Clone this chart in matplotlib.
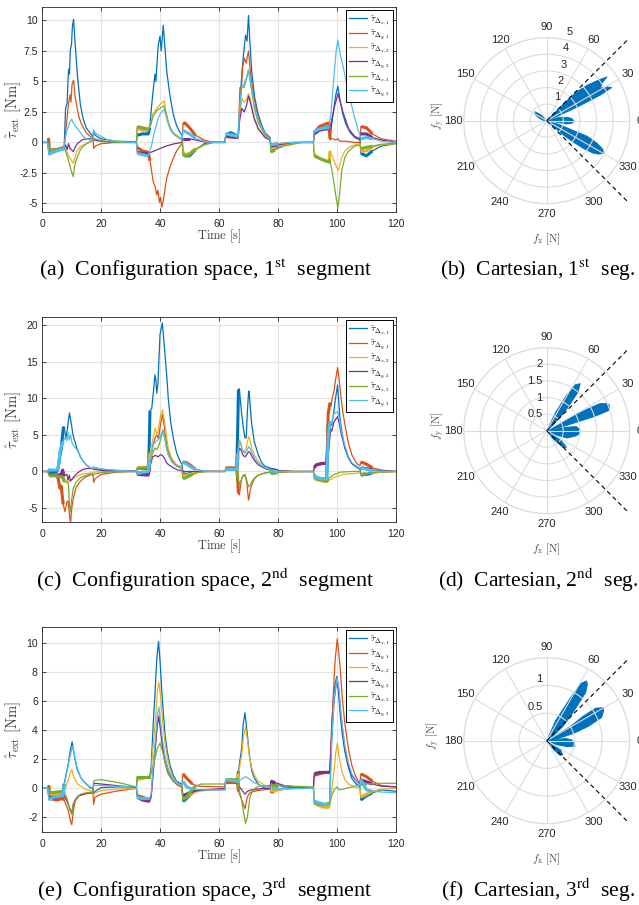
import numpy as np
import matplotlib
matplotlib.use("Agg")
import matplotlib.pyplot as plt
from matplotlib.transforms import offset_copy

plt.rcParams['font.family'] = ['Liberation Sans', 'DejaVu Sans']
plt.rcParams['mathtext.fontset'] = 'cm'

# ---- data: (time [s], torque [Nm]) ----
A_X1 = [(0,0),(2,0),(2.3,-0.9),(3,-0.7),(5,-0.6),(7.5,-0.4),(8,2.8),(8.5,3.2),(9,6),(9.3,5.6),(9.6,7.6),(10,8),(10.3,9.5),(10.7,10.1),(11.2,8.2),(12,5.5),(13,3.1),(14,1.9),(15,1.2),(16.5,0.7),(17.3,0.5),(17.5,1.0),(18,0.6),(20,0.3),(25,0.1),(32,0.05),(32.3,0.6),(34,0.7),(36,0.7),(36.5,1.2),(37.2,3.1),(38,5),(38.3,5.6),(38.6,5),(39.4,8),(40,8.7),(40.4,7.5),(41.1,9.6),(41.6,8),(42.3,5.8),(43.4,3.8),(44.5,2.3),(45.6,1.4),(46.8,0.8),(47.5,0.6),(47.8,-0.8),(48.5,-1.1),(50,-1.1),(52,-0.6),(55,-0.1),(58,0),(62,0),(62.3,0.6),(64,0.8),(66.5,0.5),(67,2.5),(67.5,4.8),(68.3,7.2),(69,8.8),(69.5,8.3),(70,10.4),(70.4,8.5),(71.1,5.8),(72,3.8),(73.3,2.3),(74.5,1.4),(75.6,0.8),(77.3,0.4),(77.6,-0.7),(79,-0.5),(82,-0.2),(88,0),(92,0),(92.3,0.8),(94,1.1),(96,1.2),(97.3,1.3),(97.7,0.2),(98.2,1.5),(98.8,2.5),(99.5,3.8),(100.3,4.6),(101,3.5),(102,2.3),(103,1.5),(104.5,0.8),(106,0.4),(107.8,0.2),(108.1,-0.9),(110,-1.1),(112,-0.7),(115,-0.3),(120,-0.1)]
A_Y1 = [(0,0),(2,0),(2.2,0.35),(2.5,-0.6),(5,-0.6),(7.5,-0.4),(8,0.8),(8.4,1.7),(9,3.2),(9.5,3.9),(9.8,3.3),(10.2,4.8),(10.7,5.1),(11.2,3.8),(11.7,3.1),(12.5,2.1),(13.4,1.5),(15,0.8),(16.3,0.5),(17.3,0.4),(17.5,-0.5),(18,-0.3),(20,-0.1),(25,0),(32,0),(32.3,-0.4),(34,-0.7),(36,-0.8),(36.6,-1.5),(37.7,-3.2),(38.3,-3.6),(38.9,-4.3),(39.3,-3.9),(39.8,-4.9),(40.2,-4.5),(40.6,-5.3),(41.1,-4.8),(41.7,-3.8),(42.3,-2.9),(43.4,-2.0),(44.5,-1.3),(45.6,-0.7),(46.8,-0.3),(47.5,-0.1),(47.8,1.5),(48.5,1.6),(50,1.2),(52,0.6),(55,0.2),(58,0),(62,0),(62.3,0.5),(66.5,0.4),(67.1,4.5),(67.5,4),(68,6.2),(68.6,6.9),(69.2,6.5),(70,7.5),(70.5,6.2),(71,5.0),(72,3.4),(73.3,2.0),(74.5,1.2),(75.6,0.7),(77.3,0.4),(77.6,-0.2),(80,-0.1),(85,0),(92,0),(92.3,0.8),(94,1.3),(96,1.5),(97.3,1.6),(97.6,0.3),(98.5,0.3),(99.5,0.2),(100.3,0.3),(101,0.1),(103,0.1),(106,0),(107.8,0),(108.1,1.3),(110,1.2),(112,0.7),(115,0.3),(120,0.1)]
A_X2 = [(0,0),(2,0),(2.5,-0.7),(5,-0.6),(7.5,-0.4),(8,-0.6),(9.5,-1.3),(10.6,-1.7),(11,-1.4),(11.8,-0.7),(13,-0.35),(14,-0.2),(17,0.1),(17.5,0.3),(18,0.2),(20,0.1),(25,0),(32,0),(32.3,1.2),(34,1.0),(36,1.0),(37,1.6),(37.5,2.3),(38.9,2.8),(40,3.1),(41.4,3.4),(42,2.6),(42.8,1.7),(43.6,1.2),(44.5,0.8),(46.8,0.4),(47.5,0.3),(47.8,-0.8),(48.5,-1.0),(50,-0.9),(52,-0.5),(55,-0.2),(58,0),(62,0),(62.3,0.6),(66.5,0.5),(67,2.2),(67.7,3.6),(68.5,3.3),(69.3,3.5),(70,4.0),(70.6,3.6),(71.1,3.0),(72,2.0),(73.3,1.2),(75.6,0.5),(77.3,0.3),(77.6,-0.6),(79,-0.4),(82,-0.2),(88,0),(92,0),(92.3,-1.0),(94,-1.3),(96,-1.5),(97.3,-1.6),(97.6,-0.7),(98.5,-1.2),(99.5,-1.8),(100.4,-2.3),(101,-1.8),(101.8,-1.1),(102.7,-0.7),(104,-0.4),(106,-0.2),(107.8,-0.1),(108.1,-0.7),(110,-0.7),(112,-0.4),(115,-0.2),(120,-0.1)]
A_Y2 = [(0,0),(2,0),(2.5,-0.8),(5,-0.6),(7.5,-0.5),(8,-0.2),(8.5,-0.6),(9,-0.1),(9.5,-0.5),(10,-0.6),(10.6,-0.75),(11.2,-0.4),(12,-0.1),(13,0.1),(14,0.25),(16,0.3),(17.3,0.3),(17.5,0.2),(20,0.1),(25,0),(32,0),(32.3,-0.8),(34,-0.9),(36,-0.9),(37,-0.8),(39,-0.6),(42,-0.3),(45,-0.1),(47.5,0),(47.8,0.3),(50,0.3),(55,0.05),(62,0),(62.3,0.5),(66.5,0.4),(67,1.8),(67.7,2.8),(68.5,2.5),(69.3,3.0),(70,3.8),(70.6,3.3),(71.1,2.8),(72,1.9),(73.3,1.1),(75.6,0.4),(77.3,0.2),(77.6,-0.3),(80,-0.2),(85,0),(92,0),(92.3,0.7),(94,1.0),(96,1.1),(97.3,1.1),(98,1.6),(99,2.8),(100.3,4.0),(101,3.4),(102,2.5),(102.7,2.0),(104,1.1),(106,0.5),(107.8,0.3),(108.1,0.7),(110,0.7),(112,0.4),(115,0.2),(120,0)]
A_X3 = [(0,0),(2,0),(2.5,-0.7),(5,-0.6),(7.5,-0.5),(8,-0.7),(9,-1.5),(10,-2.4),(10.6,-2.8),(11,-2.0),(11.8,-1.3),(13,-0.6),(14,-0.3),(17,0.2),(17.5,0.4),(18,0.3),(20,0.15),(25,0),(32,0),(32.3,1.3),(34,1.2),(36,1.1),(37,1.5),(37.5,2.1),(38.9,2.6),(40,2.8),(41.3,3.0),(42,2.4),(42.8,1.6),(43.6,1.1),(44.5,0.7),(46.8,0.3),(47.5,0.2),(47.8,-1.0),(48.5,-1.1),(50,-1.0),(52,-0.6),(55,-0.2),(58,0),(62,0),(62.3,0.7),(66.5,0.5),(67,2.8),(67.7,4.6),(68.5,4.5),(69.3,5.2),(70,5.9),(70.6,5.0),(71.1,4.2),(72,2.8),(73.3,1.6),(75.6,0.6),(77.3,0.3),(77.6,-0.8),(79,-0.6),(82,-0.3),(88,0),(92,0),(92.3,-1.1),(94,-1.3),(96,-1.5),(97.3,-1.6),(97.6,-1.4),(98.5,-2.6),(99.5,-4.2),(100.3,-5.4),(100.9,-4.2),(101.6,-2.3),(102.7,-1.2),(103.9,-0.7),(106,-0.3),(107.8,-0.2),(108.1,-0.5),(110,-0.4),(112,-0.3),(115,-0.15),(120,-0.05)]
A_Y3 = [(0,0),(2,0),(2.3,-1.0),(3,-0.9),(5,-0.7),(7.5,-0.5),(8,0.5),(8.5,1.0),(9.5,1.7),(10.1,1.9),(10.6,1.6),(11.8,1.2),(13,0.8),(14,0.5),(15,0.3),(17.3,0.1),(17.5,1.0),(18,0.8),(20,0.5),(22,0.25),(25,0.1),(30,0),(32,0),(32.3,-0.9),(34,-1.0),(36,-1.1),(37,-0.4),(37.7,0.4),(38.5,1.2),(39.4,2.0),(40.2,2.4),(41.4,2.7),(42,2.2),(42.8,1.5),(43.6,1.0),(44.5,0.7),(46.8,0.35),(47.5,0.3),(47.8,1.0),(48.5,0.9),(50,0.7),(52,0.35),(55,0.1),(58,0),(62,0),(62.3,0.7),(66.5,0.5),(67,3.0),(67.7,4.5),(68.5,4.8),(69.3,5.3),(70,6.0),(70.6,5.2),(71.1,4.3),(72,3.0),(73.3,1.8),(75.6,0.7),(77.3,0.3),(77.6,-0.2),(80,-0.1),(85,0),(92,0),(92.3,0.9),(94,1.1),(96,1.2),(97.3,1.2),(98,2.5),(99,5.5),(99.7,7.5),(100.3,8.4),(101,7.3),(102,6.3),(102.7,5.5),(103.8,4.2),(104.9,3.1),(106,2.0),(107.2,1.0),(107.8,0.6),(108.1,0.3),(110,0.4),(112,0.3),(115,0.1),(120,0)]

C_X1 = [(0,0),(2,0),(2.3,0.3),(3,-0.2),(5,0),(5.5,0.5),(6.1,2.3),(6.5,3),(7.2,5.9),(7.5,6.1),(8.1,4.6),(8.5,5.5),(9.3,8.0),(10,6.4),(10.5,5.0),(11.8,3.2),(13,2.0),(14,1.4),(15,0.9),(16.3,0.5),(17.3,0.4),(17.5,0.6),(18,0.5),(20,0.3),(25,0.15),(32,0.1),(32.3,0.5),(34,0.4),(36,0.4),(36.3,3),(36.6,8.3),(37.2,8.6),(37.8,11),(38.3,13.2),(38.6,12.5),(38.9,10.7),(39.3,12),(40,18.7),(40.8,20.3),(41.7,16),(42.3,13),(42.8,10),(43.6,6.8),(44.5,4.6),(45.6,2.6),(46.8,1.4),(47.5,1.0),(47.8,-0.3),(49,-0.4),(52,-0.1),(55,0),(62,0),(62.3,0.3),(66,0.3),(66.3,5),(66.6,11.2),(66.9,11.3),(67.3,9.5),(67.7,7.8),(68.3,5.8),(68.8,4.6),(69.2,4.6),(69.6,8),(70,10.7),(70.2,11.0),(70.6,8.8),(71.1,6.4),(72,4.0),(73.3,2.3),(74.5,1.2),(75.6,0.7),(77.3,0.5),(77.6,0.3),(80,0.1),(85,0),(92,0),(92.3,-0.5),(93,-0.9),(95,-1.0),(96.5,-1.0),(96.8,3),(97,6.4),(97.6,6.8),(98.2,6.3),(98.8,7.8),(99.5,10),(100.2,11.8),(100.6,9.5),(101,7.3),(102,4.5),(102.7,3.2),(103.8,1.9),(105,1.1),(106.5,0.6),(107.8,0.3),(108.1,-0.5),(110,-0.4),(112,-0.2),(115,-0.1),(120,0)]
C_Y1 = [(0,0),(2,0),(2.3,-0.4),(5,-0.5),(5.5,-1.0),(6.1,-2.3),(6.5,-2.0),(7.2,-4.5),(7.8,-5.5),(8.4,-4.2),(8.8,-4.0),(9.5,-6.6),(9.7,-6.9),(10.1,-5.0),(10.6,-3.7),(11.5,-2.2),(12.9,-1.4),(14.5,-0.8),(16.3,-0.5),(17.3,-0.4),(17.5,-1.5),(18,-1.0),(20,-0.4),(25,-0.1),(32,0),(32.3,-0.2),(36,-0.2),(36.6,1.5),(37.7,3.7),(38.3,4.5),(38.9,5.0),(39.5,4.5),(40.2,6.5),(40.8,7.8),(41.5,6),(42.2,4),(42.8,2.7),(44,1.6),(45.6,0.9),(47.3,0.6),(47.8,1.3),(49,1.2),(50.5,0.8),(52,0.3),(55,0.05),(62,0),(62.3,0.5),(66,0.5),(66.4,-1.5),(66.6,-3.0),(66.9,-3.2),(67.3,-2.0),(67.7,-0.9),(68.3,-0.6),(68.8,-0.5),(69.4,-1.5),(70,-3.9),(70.2,-3.6),(70.6,-2.5),(71.1,-1.8),(72,-1.0),(73.3,-0.5),(75.6,-0.2),(77.3,-0.1),(77.6,0.2),(80,0.05),(85,0),(92,0),(92.3,0.5),(93,0.9),(95,1.1),(96.5,1.1),(96.8,4),(97,7.8),(97.6,9.4),(98,8.9),(98.4,10),(99,11),(99.5,12.5),(100.2,14.2),(100.6,13),(101,11.4),(102,8),(102.7,6.4),(103.8,4),(105,2.3),(106.5,1.2),(107.2,0.9),(107.8,0.8),(108.1,1.3),(110,1.0),(112,0.5),(115,0.2),(120,0)]
C_X2 = [(0,0),(2,0),(2.5,-0.5),(5,-0.5),(7,-0.6),(7.5,-0.9),(8.5,-1.4),(9,-1.5),(9.5,-1.3),(10.5,-1.0),(12,-0.6),(14,-0.3),(17,-0.2),(17.5,-0.1),(20,-0.05),(25,0),(32,0),(32.3,0.5),(36,0.6),(36.6,2.5),(37.7,4.6),(38.3,5.9),(38.7,5.5),(39.1,5.0),(39.7,6.5),(40.3,7.8),(40.8,8.4),(41.5,7),(42.2,4.8),(42.8,3.2),(44,1.8),(45.6,0.9),(47.3,0.5),(47.8,-0.5),(49,-0.5),(52,-0.2),(55,0),(62,0),(62.3,0.3),(66,0.3),(66.4,2.5),(66.9,4.3),(67.3,4.0),(67.8,3.0),(68.6,2.7),(69.2,3.2),(70,4.7),(70.4,4.5),(71.1,3.2),(72,2.2),(73.3,1.4),(74.5,0.8),(75.6,0.5),(77.3,0.3),(77.6,-0.2),(80,-0.1),(85,0),(92,0),(92.3,-0.8),(93,-1.1),(95,-1.3),(96.5,-1.4),(97,-1.2),(98,-1.1),(99,-0.8),(100,-0.7),(102,-0.4),(105,-0.3),(107.8,-0.2),(108.1,-0.4),(110,-0.3),(115,-0.1),(120,0)]
C_Y2 = [(0,0),(2,0),(2.5,-0.5),(5,-0.5),(6.5,-0.4),(7,0.2),(7.5,-0.6),(8.5,-0.4),(8.8,-1.2),(9.3,-0.5),(9.6,-1.3),(10.3,-1.0),(11,-0.6),(12,-0.2),(13.5,0.2),(15,0.4),(17,0.4),(17.5,0.3),(20,0.15),(25,0.05),(32,0),(32.3,-0.4),(36,-0.5),(36.5,0.5),(37.5,2.0),(38.5,2.2),(39.3,2.0),(40.2,2.3),(40.8,2.2),(41.5,1.8),(42.2,1.2),(43,0.9),(44.5,0.5),(46,0.2),(47.5,0.1),(48,0),(55,0),(62,0),(62.3,0.3),(66,0.3),(66.4,2.0),(66.9,3.2),(67.4,3.0),(68.2,2.2),(68.8,2.0),(69.4,2.3),(70,2.7),(70.5,2.6),(71.1,2.1),(72,1.5),(73.3,0.9),(75.6,0.4),(77.3,0.2),(77.6,0.3),(80,0.1),(85,0),(92,0),(92.3,0.6),(93,0.9),(95,1.1),(96.5,1.1),(97,3.5),(97.6,5.9),(98.2,5.5),(99,6.8),(100.2,7.5),(100.8,6.5),(101.5,5),(102.7,3.2),(103.8,2.0),(105,1.1),(107,0.6),(107.8,0.4),(108.1,0.5),(110,0.4),(112,0.2),(120,0)]
C_X3 = [(0,0),(2,0),(2.5,-0.6),(5,-0.6),(7,-0.8),(7.5,-1.4),(8.5,-1.5),(9,-1.8),(9.3,-4.5),(9.6,-5.5),(10,-4.0),(10.6,-2.3),(11.5,-1.5),(12.9,-0.9),(15,-0.5),(17,-0.3),(17.5,-0.4),(20,-0.15),(25,0),(32,0),(32.3,0.4),(36,0.5),(36.6,1.5),(37.7,2.7),(38.3,3.2),(38.9,3.0),(39.5,3.4),(40.3,4.5),(41,5.7),(41.6,4.8),(42.2,3.3),(42.8,2.3),(44,1.3),(45.6,0.7),(47.3,0.4),(47.8,-1.0),(49,-0.8),(51,-0.4),(53,-0.1),(56,0),(62,0),(62.3,0.3),(66,0.3),(66.4,-0.8),(66.9,-1.8),(67.4,-1.3),(68.2,-0.5),(68.8,-0.4),(69.4,-1.2),(70,-2.1),(70.5,-1.9),(71.1,-1.4),(72,-0.9),(73.3,-0.5),(75.6,-0.2),(77.3,-0.1),(77.6,-0.3),(80,-0.15),(85,-0.05),(92,0),(92.3,-0.7),(93,-1.0),(95,-1.2),(96.5,-1.3),(97,-1.0),(98,-0.7),(99,-0.4),(100,-0.3),(101,-0.1),(105,0),(107.8,0),(108.1,-0.4),(110,-0.3),(113,-0.1),(120,0)]
C_Y3 = [(0,0),(2,0),(2.3,0.2),(5,0.2),(5.5,0.6),(6.1,2.7),(6.6,3.5),(7.2,4.1),(7.8,4.6),(8.4,4.2),(8.9,5.3),(9.2,4.3),(9.7,5.0),(10.1,4.0),(10.6,3.6),(11.8,3.0),(13,2.1),(14,1.4),(15,0.9),(16.3,0.5),(17.3,0.4),(17.5,0.6),(18,0.5),(20,0.35),(25,0.15),(32,0.05),(32.3,-0.3),(34,-0.1),(36,0),(36.6,1.5),(37.7,3.7),(38.9,4.2),(40,4.6),(40.8,5.5),(41.5,4.6),(42.2,3.3),(42.8,2.3),(44,1.4),(45.6,0.8),(47.3,0.5),(47.8,1.3),(49,1.0),(50.5,0.6),(52,0.3),(55,0.05),(62,0),(62.3,0.3),(66,0.3),(66.4,2.3),(66.9,4.1),(67.4,3.8),(68,2.8),(68.8,2.5),(69.4,2.8),(70,3.4),(70.5,3.2),(71.1,2.6),(72,1.8),(73.3,1.1),(75.6,0.5),(77.3,0.3),(77.6,0.1),(80,0),(92,0),(92.3,-0.5),(93,-0.8),(95,-1.0),(96.5,-1.0),(97,4.5),(97.6,6.8),(98.2,6.5),(98.8,7.8),(100.2,8.2),(100.8,7.2),(101.5,5.5),(102.7,3.5),(103.8,2.1),(105,1.2),(107,0.6),(107.8,0.4),(108.1,0.5),(110,0.3),(112,0.1),(120,0)]

E_X1 = [(0,0),(2,0),(2.3,-0.6),(4,-0.5),(7,-0.45),(7.5,0.3),(8.4,1.2),(9,1.8),(9.5,2.5),(10.2,3.2),(10.6,2.7),(11.2,2.0),(11.8,1.4),(13,0.8),(14,0.5),(16.3,0.05),(17.3,0),(17.5,-0.4),(18,-0.2),(20,0.05),(25,0.1),(32,0.1),(32.3,0.8),(36.5,0.8),(37,1.5),(37.7,4.4),(38.3,6.5),(38.9,8.9),(39.5,10.1),(40,8.8),(40.6,6.7),(41.2,5),(41.7,3.7),(42.5,2.5),(43.4,1.6),(44.5,0.9),(45.6,0.5),(47.3,0.3),(47.8,-0.9),(49,-0.7),(50.5,-0.4),(52,-0.15),(55,-0.1),(62,-0.1),(62.3,0.6),(66.3,0.5),(66.6,1.2),(67.7,2.8),(68.2,4.4),(68.8,5.2),(69.6,3.7),(70.3,2.3),(71.1,1.2),(72,0.7),(73.3,0.3),(75.6,0),(77.3,0),(77.6,0.5),(79,0.3),(82,0.1),(88,0),(92,0),(92.3,-0.9),(94,-1.1),(96,-1.2),(97.5,-1.1),(98.2,4.4),(99,6.7),(99.9,7.7),(100.4,6.8),(101,5.3),(101.8,3.7),(102.7,2.5),(103.8,1.5),(105,0.7),(106.5,0.3),(107.8,0.1),(108.1,-0.8),(110,-0.5),(112,-0.3),(115,-0.1),(120,-0.2)]
E_Y1 = [(0,0),(2,0),(2.3,0.2),(2.6,-0.7),(5,-0.8),(7,-0.7),(7.5,-0.8),(8.9,-1.5),(9.6,-2.2),(10.1,-2.5),(10.6,-1.6),(11.2,-0.9),(12.5,-0.5),(15,-0.35),(17.3,-0.3),(17.5,-1.1),(18,-0.6),(20,-0.4),(25,-0.2),(30,-0.05),(32,0),(32.3,-0.5),(34,-0.6),(36.5,-0.8),(37,-0.5),(37.7,1.5),(38.5,3.2),(39.1,4.5),(39.6,5.0),(40.2,4.2),(40.8,3.0),(41.7,1.9),(42.8,1.1),(44.5,0.5),(46,0.2),(47.3,0.1),(47.8,1.0),(49,0.7),(51,0.3),(53,0.15),(62,0.1),(62.3,0.4),(66.3,0.4),(66.6,-0.2),(67.7,-0.8),(68.8,-1.4),(69.6,-0.6),(70.3,-0.35),(71.1,-0.25),(73,-0.15),(77.3,-0.05),(77.6,-0.3),(79,-0.15),(85,0),(92,0),(92.3,0.9),(94,1.0),(96,1.1),(97.5,1.1),(98.2,4),(98.8,6.7),(99.4,8.9),(100.1,10.3),(100.5,9.5),(101,8.5),(101.8,6.2),(102.7,4.4),(103.8,2.8),(105,1.6),(106.2,0.9),(107.2,0.5),(107.8,0.4),(108.1,1.0),(110,0.8),(112,0.5),(115,0.2),(120,0.1)]
E_X2 = [(0,0),(2,0),(2.5,-0.4),(5,-0.4),(7.5,-0.3),(8.4,0.3),(9.5,1.0),(10.1,1.3),(10.6,0.9),(11.2,0.6),(12,0.3),(13.5,0.1),(15,-0.1),(17.3,-0.2),(17.5,-0.5),(18,-0.3),(20,-0.15),(25,-0.05),(32,0),(32.3,0.6),(36.5,0.8),(37,1.2),(37.7,3),(38.5,4.8),(39.1,6.7),(39.6,7.3),(40.2,6.3),(40.9,4.6),(41.6,3.3),(42.4,2.2),(43.4,1.3),(44.5,0.7),(46,0.35),(47.3,0.2),(47.8,-0.5),(49,-0.6),(51,-0.35),(53,-0.2),(58,-0.1),(62,-0.1),(62.3,0.6),(66.3,0.5),(66.6,1.0),(67.7,2.3),(68.3,3.6),(69,4.2),(69.6,3.4),(70.3,2.2),(71.1,1.4),(72,0.9),(73.3,0.5),(75.6,0.2),(77.3,0.1),(77.6,-0.2),(80,-0.1),(88,0),(92,0),(92.3,-1.0),(94,-1.2),(96,-1.3),(97.5,-1.3),(98.2,-0.2),(99,1.2),(99.6,2.5),(100.1,3.1),(100.6,2.3),(101.6,1.2),(102.7,0.6),(103.9,0.3),(106,0.1),(107.8,0),(108.1,-0.6),(110,-0.4),(112,-0.2),(115,-0.05),(120,0)]
E_Y2 = [(0,0),(2,0),(2.5,-0.7),(5,-0.6),(7.5,-0.5),(8.5,-0.9),(9.5,-1.4),(10.1,-1.7),(10.6,-1.1),(11.2,-0.8),(12.5,-0.5),(15,-0.35),(17.3,-0.3),(17.5,0.3),(18,0.35),(20,0.3),(25,0.2),(30,0.1),(32,0.05),(32.3,-0.6),(34,-0.8),(36.5,-0.9),(37,-0.6),(37.7,1.0),(38.5,3.0),(39.1,4.4),(39.6,4.9),(40.2,4.0),(40.8,2.9),(41.7,1.8),(42.8,1.0),(44.5,0.5),(46,0.3),(47.3,0.2),(47.8,-0.5),(49,-0.4),(51,-0.2),(55,-0.1),(62,0),(62.3,0.6),(66.3,0.5),(66.6,0.2),(67.7,-0.1),(68.8,-0.4),(69.6,-0.2),(71.1,-0.1),(75,0),(77.3,0),(77.6,0.5),(79,0.4),(82,0.2),(88,0.05),(92,0),(92.3,1.0),(94,1.1),(96,1.1),(97.5,1.1),(98.2,3.5),(99,6),(100,7.6),(100.6,6.8),(101.2,5.3),(102,3.8),(102.7,2.7),(103.8,1.6),(105,0.9),(107,0.4),(107.8,0.3),(108.1,0.6),(110,0.45),(112,0.3),(115,0.15),(120,0.1)]
E_X3 = [(0,0),(2,0),(2.5,-0.3),(5,-0.25),(7.5,-0.2),(8.5,-0.7),(9.5,-1.5),(10.1,-1.8),(10.6,-1.1),(11.8,-0.6),(13,-0.4),(15,-0.3),(17.3,-0.25),(17.5,0.5),(18,0.55),(20,0.6),(23,0.5),(27,0.35),(30,0.2),(32,0.1),(32.3,0.8),(36.5,0.8),(37,1.0),(38,1.8),(39,2.7),(40,3.1),(40.8,2.6),(41.6,1.9),(42.4,1.2),(43.4,0.8),(44.5,0.5),(46,0.3),(47.3,0.2),(47.8,-0.8),(49,-0.6),(50.5,-0.2),(52,0.15),(54,0.3),(58,0.3),(62,0.3),(62.3,0.6),(66.3,0.6),(66.6,0.1),(67.5,-0.6),(68.2,-1.5),(69,-2.4),(69.6,-2.0),(70.5,-0.6),(71.3,-0.2),(72.2,0),(73.5,0.15),(77.3,0.2),(77.6,0.2),(80,0.2),(85,0.15),(92,0.1),(92.3,-1.0),(94,-1.1),(96,-1.1),(97.5,-1.0),(98.2,-0.5),(99,-0.1),(100,0.1),(100.8,-0.1),(102,-0.05),(105,0.1),(108,0.25),(110,0.3),(115,0.35),(120,0.35)]
E_Y3 = [(0,0),(2,0),(2.3,-0.8),(4,-0.6),(7,-0.5),(7.5,0.2),(8.4,1.1),(9.5,2.2),(10.3,2.9),(10.8,2.5),(11.8,1.5),(13,0.8),(14,0.5),(16.3,0.1),(17.3,0.05),(17.5,0.2),(18,0.2),(20,0.2),(25,0.15),(32,0.1),(32.3,-0.6),(34,-0.7),(36.5,-0.7),(37,-0.4),(37.7,1.5),(38.5,3.5),(39.1,5),(39.6,5.6),(40.2,4.6),(40.8,3.4),(41.7,2.2),(42.8,1.3),(44.5,0.6),(46,0.3),(47.3,0.2),(47.8,0.5),(49,0.1),(51,-0.05),(55,-0.1),(62,-0.1),(62.3,0.6),(66.3,0.5),(66.6,0.5),(67.7,0.65),(69,0.8),(69.6,0.75),(70.5,0.6),(71.1,0.5),(72.5,0.35),(74,0.2),(77.3,0.05),(77.6,0),(80,0),(92,0),(92.3,-0.9),(94,-1.0),(96,-1.1),(97.5,-1.1),(98.2,3),(99,6.2),(100,7.6),(100.6,6.9),(101.2,5.5),(102,4.0),(102.7,2.9),(103.8,1.8),(105,1.0),(107,0.4),(107.8,0.2),(108.1,0.6),(110,-0.1),(112,-0.2),(115,-0.25),(120,-0.3)]

# time windows where the measured torques chatter (drawn as thick band)
NOISY = [(2.2, 7.6), (32.2, 36.6), (47.7, 52.5), (62.2, 66.6), (77.5, 80), (92.2, 97.6), (108, 112.5)]

# Cartesian force lobes: (angle [deg], |f| [N]) outlines
B_LOBES = [
    [(0,0),(45,0.5),(45,1.5),(44,2.5),(41,3.3),(38,4.0),(36,4.5),(34,4.0),(31,3.8),(29,4.2),(27,4.4),(25.5,3.6),(25,2.9),(24,2.0),(22,0.65)],
    [(0,0),(15,0.8),(9,1.3),(4,1.55),(-2,1.66),(-6,1.5),(-9.5,1.2),(-8,0.5)],
    [(0,0),(-17,0.8),(-20,1.6),(-21,2.6),(-24,3.3),(-27,3.8),(-30,3.95),(-33,3.7),(-35,3.4),(-37,2.8),(-39,2.0),(-41,1.2),(-40,0.5)],
    [(0,0),(135,0.5),(142,0.88),(152,0.8),(162,0.45),(175,0.2)],
]
D_LOBES = [
    [(0,0),(64,0.6),(61,1.2),(58,1.64),(54.5,1.74),(51,1.5),(48,1.0),(45,0.6),(42,0.2)],
    [(0,0),(29,0.9),(28,1.4),(27,1.8),(24,2.0),(22,2.04),(18,1.97),(16.5,1.5),(16,1.05),(14,0.5)],
    [(0,0),(10,0.6),(8,0.9),(2,1.0),(-5,1.0),(-10,0.9),(-20,0.65),(-25,0.3)],
    [(0,0),(-33,0.5),(-40,0.78),(-46,0.7),(-52,0.3)],
]
F_LOBES = [
    [(0,0),(66,0.4),(61,0.9),(59,1.21),(56.3,1.30),(54,1.25),(51,1.12),(47,0.7),(41,0.38),(37,0.15)],
    [(0,0),(31,0.5),(34,0.8),(33.5,1.07),(30,1.19),(27,1.15),(23,1.08),(19,0.8),(15,0.5),(10,0.2)],
    [(0,0),(7,0.35),(2,0.45),(-5,0.5),(-10.7,0.52),(-16,0.4),(-22,0.2)],
    [(0,0),(-33,0.3),(-42,0.39),(-48,0.35),(-52,0.2)],
]

COLORS = ['#0072BD', '#D95319', '#EDB120', '#7E2F8E', '#77AC30', '#4DBEEE']
LABELS = [r'$\hat{\tau}_{\Delta_{x,1}}$', r'$\hat{\tau}_{\Delta_{y,1}}$',
          r'$\hat{\tau}_{\Delta_{x,2}}$', r'$\hat{\tau}_{\Delta_{y,2}}$',
          r'$\hat{\tau}_{\Delta_{x,3}}$', r'$\hat{\tau}_{\Delta_{y,3}}$']

W, H = 639, 905
fig = plt.figure(figsize=(W / 100, H / 100), dpi=100)
TXT = '#262626'


def px_axes(left, top, right, bottom, **kw):
    return fig.add_axes([left / W, 1 - bottom / H, (right - left) / W, (bottom - top) / H], **kw)


def fig_text(x, y, s, **kw):
    return fig.text(x / W, 1 - y / H, s, **kw)


def time_panel(top, series, ylim, yticks, yticklabels, caption):
    ax = px_axes(42, top, 396, top + 205)
    for pts, c, lab in zip(series, COLORS, LABELS):
        t, v = zip(*pts)
        ax.plot(t, v, color=c, lw=0.9, label=lab)
        for t0, t1 in NOISY:
            seg = [(a, b) for a, b in pts if t0 <= a <= t1]
            if len(seg) > 1:
                ts, vs = zip(*seg)
                ax.plot(ts, vs, color=c, lw=2.2, solid_capstyle='butt')
    ax.set_xlim(0, 120)
    ax.set_ylim(*ylim)
    ax.set_xticks(range(0, 121, 20))
    ax.set_yticks(yticks)
    ax.set_yticklabels(yticklabels)
    ax.grid(True, color='#e3e3e3', lw=0.8)
    ax.set_axisbelow(True)
    for s in ax.spines.values():
        s.set_color(TXT)
        s.set_linewidth(0.6)
    ax.tick_params(direction='in', top=True, right=True, length=3, width=0.6,
                   labelsize=7.5, labelcolor=TXT, color=TXT)
    ax.tick_params(axis='x', pad=5)
    ax.tick_params(axis='y', pad=3)
    leg = ax.legend(loc='upper right', fontsize=7, frameon=True, fancybox=False,
                    edgecolor='black', framealpha=1, handlelength=1.9,
                    handletextpad=0.3, labelspacing=0.0, borderpad=0.3,
                    borderaxespad=0.35)
    leg.get_frame().set_linewidth(0.7)
    fig_text(219, top + 229, r'$\mathrm{Time\ [s]}$', ha='center', va='center',
             fontsize=9, color='#404040')
    fig_text(13, top + 103, r'$\hat{\tau}_{\mathrm{ext}}\ \mathrm{[Nm]}$', ha='center',
             va='center', rotation=90, fontsize=10.5, color='#404040')
    fig_text(205, top + 263, caption, ha='center', va='center', fontsize=15.8,
             family='Liberation Serif', math_fontfamily='stix', color='black')
    return ax


def polar_panel(cy, lobes, rmax, rticks, rlabels, rlab_angle, rlab_off, ha, fy_x, caption):
    ax = px_axes(546.7 - 83, cy - 83, 546.7 + 83, cy + 83, projection='polar')
    ax.set_ylim(0, rmax)
    ax.set_yticks(rticks)
    ax.set_yticklabels([])
    angles = list(range(0, 360, 30))
    ax.set_thetagrids(angles, labels=[str(a) for a in angles])
    ax.grid(True, color='#dcdcdc', lw=0.8)
    ax.spines['polar'].set_color('#dcdcdc')
    ax.spines['polar'].set_linewidth(0.8)
    ax.tick_params(axis='x', labelsize=8, labelcolor=TXT, pad=0.5, length=0)
    for lobe in lobes:
        th, r = zip(*lobe)
        ax.fill(np.radians(th), r, color='#0072BD', lw=0.6)
    for a in (45, -45):
        ax.plot([0, np.radians(a)], [0, rmax * 1.4], ls=(0, (4, 3)), color='black',
                lw=0.8, clip_on=False)
    tr = offset_copy(ax.transData, fig=fig, x=rlab_off[0], y=rlab_off[1], units='dots')
    for r, s in zip(rticks, rlabels):
        if s:
            ax.text(np.radians(rlab_angle), r, s, transform=tr, ha=ha, va='center',
                    fontsize=8, color=TXT)
    fig_text(546.7, cy + 118.5, r'$f_{\mathrm{x}}\ \mathrm{[N]}$', ha='center', va='center',
             fontsize=8, color='#505050')
    fig_text(fy_x, cy - 5, r'$f_{\mathrm{y}}\ \mathrm{[N]}$', ha='center', va='center',
             rotation=90, fontsize=8, color='#505050')
    fig_text(538, cy + 149, caption, ha='center', va='center', fontsize=15.5,
             family='Liberation Serif', math_fontfamily='stix', color='black')
    return ax


time_panel(7, [A_X1, A_Y1, A_X2, A_Y2, A_X3, A_Y3], (-5.7, 11.1),
           [-5, -2.5, 0, 2.5, 5, 7.5, 10], ['-5', '-2.5', '0', '2.5', '5', '7.5', '10'],
           r'(a)  Configuration space, 1$^{\mathrm{st}}$  segment')
time_panel(317, [C_X1, C_Y1, C_X2, C_Y2, C_X3, C_Y3], (-6.9, 21.1),
           [-5, 0, 5, 10, 15, 20], ['-5', '0', '5', '10', '15', '20'],
           r'(c)  Configuration space, 2$^{\mathrm{nd}}$  segment')
time_panel(627, [E_X1, E_Y1, E_X2, E_Y2, E_X3, E_Y3], (-3.0, 11.1),
           [-2, 0, 2, 4, 6, 8, 10], ['-2', '0', '2', '4', '6', '8', '10'],
           r'(e)  Configuration space, 3$^{\mathrm{rd}}$  segment')

polar_panel(120.7, B_LOBES, 5.0, [1, 2, 3, 4, 5], ['1', '2', '3', '4', '5'],
            80, (5, 7), 'left', 438, r'(b)  Cartesian, 1$^{\mathrm{st}}$  seg.')
polar_panel(430.7, D_LOBES, 2.5, [0.5, 1, 1.5, 2, 2.5], ['0.5', '1', '1.5', '2', ''],
            90, (-4, 0), 'right', 438, r'(d)  Cartesian, 2$^{\mathrm{nd}}$  seg.')
polar_panel(740.7, F_LOBES, 1.5, [0.5, 1, 1.5], ['0.5', '1', ''],
            90, (-4, 6), 'right', 433, r'(f)  Cartesian, 3$^{\mathrm{rd}}$  seg.')

fig.savefig('out.png', dpi=100)
